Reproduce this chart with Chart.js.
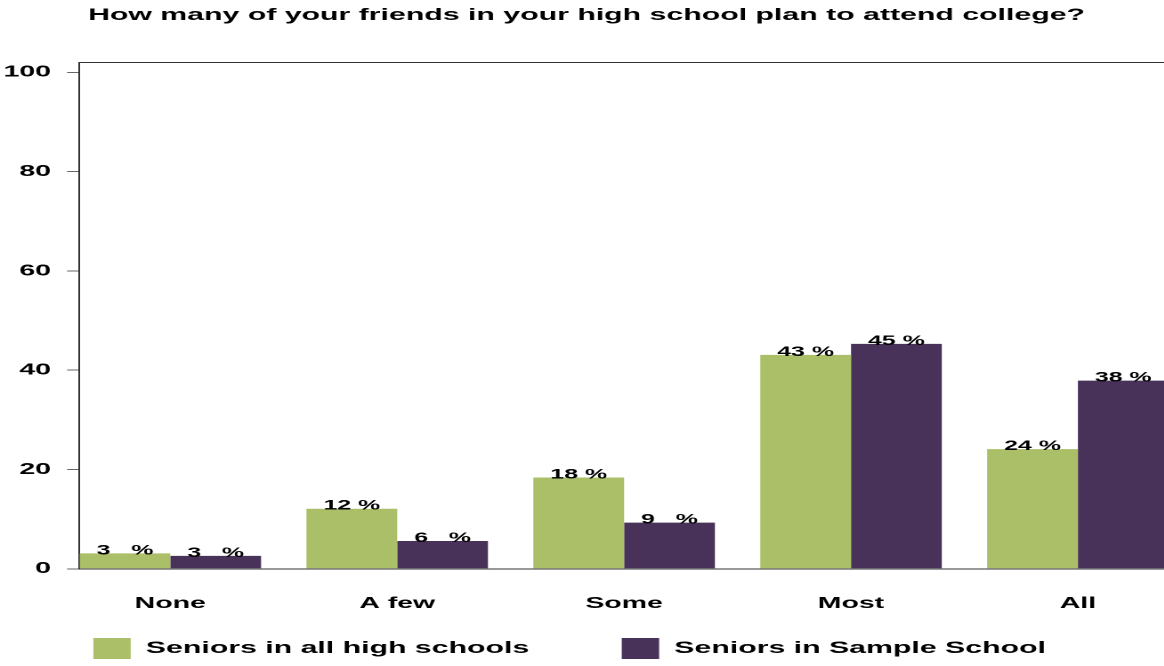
<!DOCTYPE html>
<html>
<head>
<meta charset="utf-8">
<script src="https://cdn.jsdelivr.net/npm/chart.js@4.4.0/dist/chart.umd.min.js"></script>
<style>
  html, body { margin: 0; padding: 0; background: #fff; overflow: hidden; width: 1164px; height: 666px; }
  /* the original plot is stretched sideways, so draw narrow and scale it */
  #wrap { width: 654px; height: 721px; transform: scaleX(1.78); transform-origin: 0 0; }
</style>
</head>
<body>
<div id="wrap"><canvas id="myChart"></canvas></div>
<script>
// data
const categories = ['None', 'A few', 'Some', 'Most', 'All'];
const allSchools = [3.1, 12.1, 18.4, 43.1, 24.1];
const sampleSchool = [2.6, 5.6, 9.3, 45.3, 37.9];
const seriesNames = ['Seniors in all high schools', 'Seniors in Sample School'];
const yTicks = [0, 20, 40, 60, 80, 100];
const titleText = 'How many of your friends in your high school plan to attend college?';

const fontFamily = '"Liberation Sans", Arial, Helvetica, sans-serif';
Chart.defaults.font.family = fontFamily;
Chart.defaults.font.weight = 'bold';
Chart.defaults.font.size = 16;
Chart.defaults.color = '#000';

// "43 %" labels on top of each bar
const barLabels = {
    id: 'barLabels',
    afterDatasetsDraw(chart) {
        const ctx = chart.ctx;
        ctx.save();
        ctx.font = 'bold 14px ' + fontFamily;
        ctx.fillStyle = '#000';
        ctx.textAlign = 'center';
        ctx.textBaseline = 'alphabetic';
        chart.data.datasets.forEach((ds, i) => {
            chart.getDatasetMeta(i).data.forEach((bar, j) => {
                const v = Math.round(ds.data[j].y);
                const txt = v < 10 ? v + '   %' : v + ' %';
                ctx.fillText(txt, bar.x, bar.y + 1);
            });
        });
        ctx.restore();
    }
};

// pull the legend up so its wide item gap does not push it down,
// and move title/legend sideways to where the original has them
const boxNudge = {
    id: 'boxNudge',
    afterLayout(chart) {
        chart.legend.top -= 52;
        chart.legend.bottom -= 52;
        chart.legend.left -= 3.5;
        chart.legend.right -= 3.5;
        chart.titleBlock.left += 6;
        chart.titleBlock.right += 6;
    }
};

const toPoints = arr => arr.map((v, i) => ({ x: i + 1, y: v }));

const data = {
    datasets: [{
        label: seriesNames[0],
        data: toPoints(allSchools),
        backgroundColor: '#aabf68'
    }, {
        label: seriesNames[1],
        data: toPoints(sampleSchool),
        backgroundColor: '#48325a'
    }]
};

const config = {
    type: 'bar',
    data,
    options: {
        animation: false,
        responsive: true,
        maintainAspectRatio: false,
        devicePixelRatio: 2,
        barPercentage: 1.0,
        categoryPercentage: 0.8,
        layout: { padding: { left: -7, right: 0, top: 0, bottom: 0 } },
        scales: {
            x: {
                type: 'linear',
                offset: false,
                min: 0.6,
                max: 5.38,
                afterBuildTicks: axis => { axis.ticks = categories.map((c, i) => ({ value: i + 1 })); },
                ticks: {
                    callback: (v, i) => categories[i],
                    padding: 25,
                    autoSkip: false,
                    maxRotation: 0
                },
                grid: { display: false, drawTicks: false },
                border: { display: true, color: '#333' }
            },
            x2: {
                type: 'linear',
                position: 'top',
                offset: false,
                ticks: { display: false },
                grid: { display: false, drawTicks: false },
                border: { display: true, color: '#333' }
            },
            y: {
                min: 0,
                max: 102,
                afterBuildTicks: axis => { axis.ticks = yTicks.map(v => ({ value: v })); },
                ticks: { padding: 9 },
                grid: { drawOnChartArea: false, drawTicks: true, tickLength: 7, color: '#666' },
                border: { display: true, color: '#333' }
            }
        },
        plugins: {
            title: {
                display: true,
                text: titleText,
                font: { size: 17, weight: 'bold' },
                padding: { top: 5, bottom: 37 }
            },
            legend: {
                position: 'bottom',
                labels: {
                    boxWidth: 21,
                    boxHeight: 21,
                    padding: 52,
                    font: { size: 17, weight: 'bold' }
                }
            },
            tooltip: { enabled: false }
        }
    },
    plugins: [barLabels, boxNudge]
};

const myChart = new Chart(
    document.getElementById('myChart').getContext('2d'),
    config
);
</script>
</body>
</html>
